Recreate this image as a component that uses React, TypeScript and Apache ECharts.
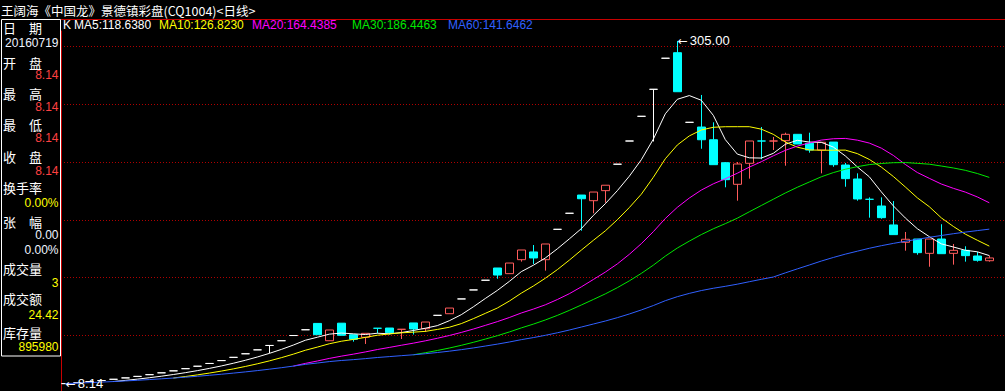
import React, { useEffect, useRef } from "react";
import * as echarts from "echarts";

// ---------- data ----------
const chartTitle = "王阔海《中国龙》景德镇彩盘(CQ1004)<日线>";

const opens = [
  8.14, 8.95, 9.85, 10.84, 11.9, 13.1, 14.4, 15.9, 17.5, 19.2,
  21.1, 23.2, 25.6, 28.1, 30.9, 34.0, 37.4, 41.2, 45.3, 49.8,
  54.8, 60.3, 45.3, 60.5, 50.5, 48.3, 56.1, 56.3, 55.2, 60.7,
  55.7, 67.3, 68.7, 81.5, 89.3, 97.7, 108.3, 103.4, 115.5, 122.2,
  115.5, 141.8, 155.7, 171.5, 166.6, 175.3, 198.2, 218.3, 239.7, 263.1,
  290.0, 294.8, 234.5, 230.4, 219.4, 199.5, 180.8, 199.0, 218.3, 218.3,
  218.6, 224.1, 216.3, 210.5, 217.4, 197.5, 185.4, 167.8, 162.0, 145.6,
  130.6, 133.4, 121.0, 133.4, 121.0, 123.6, 118.7, 114.6,
];
const closes = [
  8.14, 8.95, 9.85, 10.84, 11.9, 13.1, 14.4, 15.9, 17.5, 19.2,
  21.1, 23.2, 25.6, 28.1, 30.9, 34.0, 37.4, 41.2, 45.3, 49.8,
  54.8, 50.5, 54.6, 50.0, 46.5, 51.7, 56.1, 52.3, 55.2, 55.5,
  61.5, 67.3, 73.6, 81.5, 89.3, 97.7, 102.2, 112.6, 123.9, 117.0,
  129.1, 141.8, 155.7, 168.3, 174.1, 180.0, 198.2, 218.3, 239.7, 263.1,
  290.0, 261.0, 234.5, 219.4, 197.8, 184.8, 198.4, 218.3, 218.3, 218.3,
  224.1, 215.7, 210.5, 217.2, 197.8, 185.7, 168.1, 167.8, 151.9, 137.2,
  133.2, 121.6, 133.4, 120.7, 123.6, 119.0, 115.0, 117.0,
];
const lows = [
  8.14, 8.95, 9.85, 10.84, 11.9, 13.1, 14.4, 15.9, 17.5, 19.2,
  21.1, 23.2, 25.6, 28.1, 30.9, 34.0, 37.4, 34.5, 45.3, 49.8,
  54.8, 50.5, 45.3, 50.0, 44.5, 42.5, 51.7, 50.7, 46.8, 50.7,
  52.9, 67.3, 68.7, 81.5, 89.3, 97.7, 99.0, 103.4, 113.8, 111.8,
  106.0, 141.8, 155.7, 140.6, 155.7, 164.9, 198.2, 218.3, 239.7, 217.9,
  290.0, 261.0, 234.5, 211.6, 197.8, 178.2, 166.6, 185.7, 202.5, 210.5,
  196.9, 215.7, 208.2, 190.3, 196.0, 178.7, 166.6, 151.9, 151.0, 137.2,
  123.3, 119.8, 109.4, 120.7, 111.2, 113.8, 113.8, 113.8,
];
const highs = [
  8.14, 8.95, 9.85, 10.84, 11.9, 13.1, 14.4, 15.9, 17.5, 19.2,
  21.1, 23.2, 25.6, 28.1, 30.9, 34.0, 37.4, 41.2, 45.3, 49.8,
  54.8, 60.3, 54.6, 60.5, 50.5, 51.7, 56.1, 56.3, 55.2, 60.7,
  61.5, 67.3, 73.6, 81.5, 89.3, 97.7, 108.3, 112.6, 123.9, 128.2,
  129.1, 141.8, 155.7, 171.5, 174.1, 180.0, 198.2, 218.3, 239.7, 263.1,
  290.0, 305.0, 234.5, 258.2, 234.5, 200.1, 200.1, 218.3, 230.4, 221.8,
  225.5, 224.1, 225.5, 217.2, 217.4, 199.3, 190.3, 169.5, 169.5, 166.3,
  139.5, 133.4, 133.4, 146.2, 129.1, 127.1, 122.2, 119.0,
];
// w = one-price / white doji, r = rising (red hollow), c = falling (cyan)
const candleKinds =
  "wwwwwwwwwwwwwwwwwwwww" + // 0-20
  "crccrccrcr" + // 21-30
  "wrwwwcrrcr" + // 31-40
  "wwcrrwwwww" + // 41-50
  "cwcccrrcrr" + // 51-60
  "ccrccccccr" + // 61-70
  "crcrccr"; // 71-77

const maNames = ["MA5", "MA10", "MA20", "MA30", "MA60"];
const maPeriods = [5, 10, 20, 30, 60];
const maLegendValues = ["118.6380", "126.8230", "164.4385", "186.4463", "141.6462"];
const gridValues = [50, 100, 150, 200, 250, 300];
const extremeLabels = [
  { index: 51, value: 305.0, text: "305.00" },
  { index: 0, value: 8.14, text: "8.14" },
];

const infoLabels = ["日　期", "开　盘", "最　高", "最　低", "收　盘", "换手率", "张　幅", "成交量", "成交额", "库存量"];
const infoValues = ["20160719", "8.14", "8.14", "8.14", "8.14", "0.00%", "0.00", "0.00%", "3", "24.42", "895980"];

// ---------- styling / layout ----------
const maColors = ["#ffffff", "#ffff00", "#ff00ff", "#00e800", "#3060ff"];
const UP = "#ff5c5c";
const DOWN = "#00ffff";
const GRID_RED = "#b00000";
const Y_MIN = 1.75;
const Y_MAX = 313.6;

const labelY = [27, 62, 93, 124, 156, 187, 221, 268, 298, 332];
const valueY = [43, 75, 107, 138, 171, 203, 235, 250, 283, 315, 347];
const valueColors = ["#eef4ff", "#ff4040", "#ff4040", "#ff4040", "#ff4040", "#ffff00", "#eef4ff", "#eef4ff", "#ffff00", "#ffff00", "#ffff00"];
const legendX = [74, 159, 252, 352, 448];

const latin = '"Liberation Sans", Arial, sans-serif';
const cjk = '"Noto Sans CJK SC", sans-serif';

function movingAverage(period: number, expanding: boolean) {
  return closes.map((_, i) => {
    if (i < period - 1 && !expanding) return "-";
    const s = Math.max(0, i - period + 1);
    let sum = 0;
    for (let k = s; k <= i; k++) sum += closes[k];
    return +(sum / (i - s + 1)).toFixed(3);
  });
}

function buildOption() {
  const days = closes.map((_, i) => String(i + 1));
  const candleData = closes.map((c, i) => {
    const k = candleKinds[i];
    const col = k === "w" ? "#ffffff" : k === "r" ? UP : DOWN;
    const fill = k === "r" ? "#000000" : col;
    return {
      value: [opens[i], c, lows[i], highs[i]],
      itemStyle: { color: fill, color0: fill, borderColor: col, borderColor0: col },
    };
  });

  const maSeries = maNames.map((name, j) => ({
    name,
    type: "line",
    xAxisIndex: 0,
    yAxisIndex: 0,
    data: movingAverage(maPeriods[j], maPeriods[j] === 60),
    showSymbol: false,
    symbol: "none",
    smooth: false,
    silent: true,
    lineStyle: { color: maColors[j], width: 1 },
    z: 3,
  }));

  const graphics: any[] = [
    { type: "rect", shape: { x: 1.5, y: 19.5, width: 59, height: 336.5 }, style: { fill: "none", stroke: "#ffffff", lineWidth: 1 }, z: 10 },
    { type: "line", shape: { x1: 61, y1: 19.5, x2: 1005, y2: 19.5 }, style: { stroke: "#c80000", lineWidth: 1 }, z: 10 },
    {
      type: "text", x: 1, y: 10,
      style: { text: chartTitle, fill: "#ffffff", fontSize: 12.5, fontFamily: cjk, verticalAlign: "middle", align: "left" },
      z: 10,
    },
    {
      type: "text", x: 63, y: 25,
      style: { text: "K", fill: "#ffffff", fontSize: 12, fontFamily: latin, verticalAlign: "middle", align: "left" },
      z: 10,
    },
  ];
  maNames.forEach((n, j) => {
    graphics.push({
      type: "text", x: legendX[j], y: 25,
      style: { text: `${n}:${maLegendValues[j]}`, fill: maColors[j], fontSize: 12, fontFamily: latin, verticalAlign: "middle", align: "left" },
      z: 10,
    });
  });
  infoLabels.forEach((t, j) => {
    graphics.push({
      type: "text", x: 3, y: labelY[j],
      style: { text: t, fill: "#ffffff", fontSize: 13, fontFamily: cjk, verticalAlign: "middle", align: "left" },
      z: 10,
    });
  });
  infoValues.forEach((t, j) => {
    graphics.push({
      type: "text", x: 58.5, y: valueY[j],
      style: { text: t, fill: valueColors[j], fontSize: 12, fontFamily: latin, verticalAlign: "middle", align: "right" },
      z: 10,
    });
  });

  return {
    animation: false,
    backgroundColor: "#000000",
    grid: [
      { left: 59.3, width: 936, top: 31, bottom: 0 },
      { left: 61, right: 0, top: 31, bottom: 0 },
    ],
    xAxis: [
      { type: "category", gridIndex: 0, data: days, boundaryGap: true, show: false },
      { type: "value", gridIndex: 1, min: 0, max: 1, show: false },
    ],
    yAxis: [
      { type: "value", gridIndex: 0, min: Y_MIN, max: Y_MAX, show: false },
      {
        type: "value", gridIndex: 1, min: Y_MIN, max: Y_MAX,
        axisLine: { show: true, onZero: false, lineStyle: { color: "#c80000", width: 1 } },
        axisTick: { show: false }, axisLabel: { show: false }, splitLine: { show: false },
      },
    ],
    series: [
      {
        type: "line",
        xAxisIndex: 1,
        yAxisIndex: 1,
        data: [],
        silent: true,
        z: 0,
        markLine: {
          z: 0,
          silent: true,
          symbol: ["none", "none"],
          label: { show: false },
          lineStyle: { type: [1, 2], color: GRID_RED, width: 1 },
          data: gridValues.map((v) => ({ yAxis: v })),
        },
      },
      {
        type: "candlestick",
        xAxisIndex: 0,
        yAxisIndex: 0,
        barWidth: 9,
        data: candleData,
        itemStyle: { color: "#000000", color0: DOWN, borderColor: UP, borderColor0: DOWN, borderWidth: 1 },
        markPoint: {
          symbol: "rect",
          symbolSize: 1,
          itemStyle: { color: "rgba(0,0,0,0)" },
          silent: true,
          label: {
            show: true,
            position: "right",
            distance: 0,
            color: "#ffffff",
            formatter: (p: any) => "{a|←}{b|" + p.name + "}",
            rich: {
              a: { fontFamily: '"DejaVu Sans", sans-serif', fontSize: 12, color: "#ffffff", padding: [0, 2, 0, 0] },
              b: { fontFamily: latin, fontSize: 13, color: "#ffffff" },
            },
          },
          data: extremeLabels.map((e) => ({ name: e.text, coord: [e.index, e.value] })),
        },
        z: 2,
      },
      ...maSeries,
    ],
    graphic: graphics,
  };
}

export default function App() {
  const ref = useRef<HTMLDivElement>(null);
  useEffect(() => {
    document.body.style.margin = "0";
    document.body.style.background = "#000";
    document.body.style.overflow = "hidden";
    const chart = echarts.init(ref.current!, null, { renderer: "svg" });
    chart.setOption(buildOption() as any);
    return () => chart.dispose();
  }, []);
  return <div ref={ref} style={{ width: 1005, height: 391, background: "#000" }} />;
}
